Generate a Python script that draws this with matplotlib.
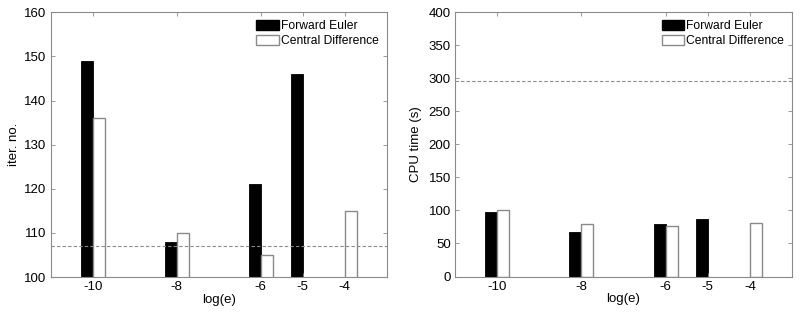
import numpy as np
import matplotlib
matplotlib.use("Agg")
import matplotlib.pyplot as plt
from matplotlib.patches import Patch

plt.rcParams['font.family'] = ['Liberation Sans', 'DejaVu Sans']

log_e = [-10, -8, -6, -5, -4]
tick_labels = ['-10', '-8', '-6', '-5', '-4']
iter_fe = [149, 108, 121, 146, np.nan]
iter_cd = [136, 110, 105, np.nan, 115]
iter_ref = 107
cpu_fe = [98, 67, 79, 87, np.nan]
cpu_cd = [100, 79, 76, np.nan, 81]
cpu_ref = 296

GREY = '#8a8a8a'
W = 0.2857

fig = plt.figure(figsize=(8, 3.14), dpi=100)
ax1 = fig.add_axes([50.7/800, 1-277/314, 336/800, (277-12.3)/314])
ax2 = fig.add_axes([455/800, 1-276.5/314, 337/800, (276.5-12.3)/314])

def draw(ax, fe, cd, ref, ylim, yticks, ylabel, ylpad):
    x = np.array(log_e, dtype=float)
    for xi, v in zip(x, fe):
        if not np.isnan(v):
            ax.bar(xi - W/2, v, width=W, color='black', edgecolor='black', linewidth=0.6)
    for xi, v in zip(x, cd):
        if not np.isnan(v):
            ax.bar(xi + W/2, v, width=W, color='white', edgecolor=GREY, linewidth=1.0)
    ax.axhline(ref, color=GREY, linestyle='--', linewidth=0.8, dashes=(3, 2))
    ax.set_xlim(-11, -3)
    ax.set_ylim(*ylim)
    ax.set_yticks(yticks)
    ax.set_xticks(log_e)
    ax.set_xticklabels(tick_labels)
    ax.tick_params(direction='in', length=3, width=0.6, color=GREY,
                   top=True, right=True, labelsize=9.5, pad=3)
    for s in ax.spines.values():
        s.set_color(GREY)
        s.set_linewidth(0.8)
    ax.set_xlabel('log(e)', fontsize=9.5, labelpad=0.5)
    ax.set_ylabel(ylabel, fontsize=9.5, labelpad=ylpad)
    handles = [Patch(facecolor='black', edgecolor='black', label='Forward Euler'),
               Patch(facecolor='white', edgecolor=GREY, label='Central Difference')]
    ax.legend(handles=handles, loc='upper right', frameon=False, fontsize=8.7,
              handlelength=1.9, handleheight=0.92, handletextpad=0.15,
              labelspacing=0.2, borderaxespad=0.25)

draw(ax1, iter_fe, iter_cd, iter_ref, (100, 160), np.arange(100, 161, 10), 'iter. no.', 3)
draw(ax2, cpu_fe, cpu_cd, cpu_ref, (0, 400), np.arange(0, 401, 50), 'CPU time (s)', 5)

fig.savefig('out.png', dpi=100)
